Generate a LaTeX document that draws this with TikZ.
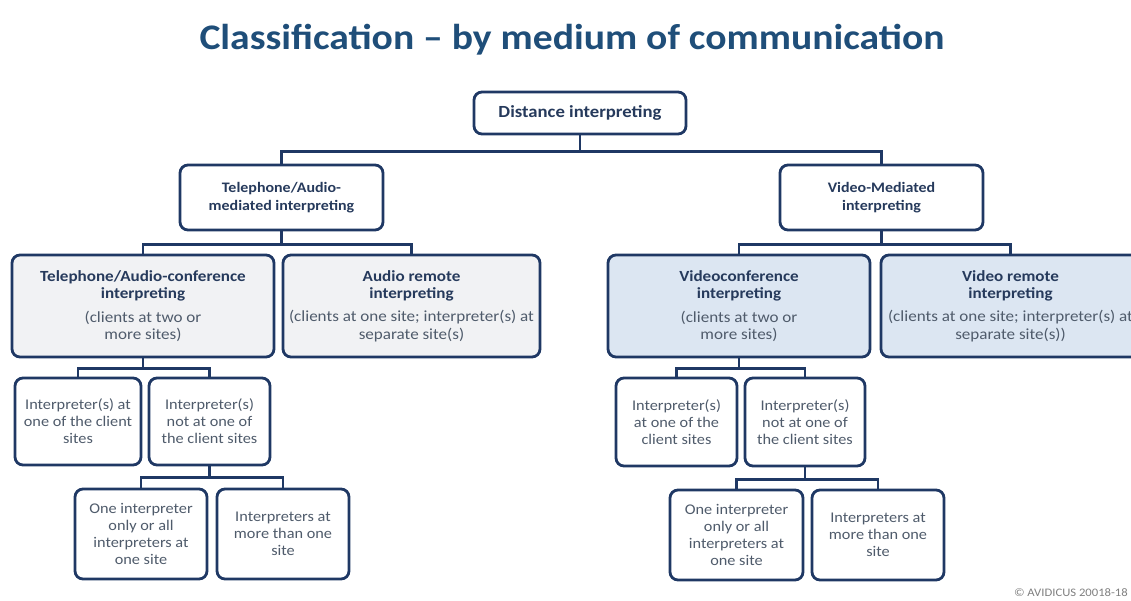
\documentclass[tikz,border=0pt]{standalone}
\usepackage{fontspec}
\setmainfont{Carlito}[FakeStretch=1.1]
\definecolor{navy}{HTML}{1F3864}
\definecolor{titleblue}{HTML}{1F4E79}
\definecolor{boldtxt}{HTML}{263A5C}
\definecolor{regtxt}{HTML}{4F5B6B}
\definecolor{grayfill}{HTML}{F1F2F4}
\definecolor{bluefill}{HTML}{DCE6F2}
\definecolor{copygray}{HTML}{7F7F7F}
\tikzset{
  box/.style={draw=navy, line width=2.8pt, rounded corners=8pt, fill=white,
    inner sep=0pt, align=center, text=regtxt,
    font=\fontsize{14.8}{17}\selectfont},
  bx/.style={box, fill=grayfill, font=\fontsize{15.5}{17.3}\selectfont},
  bb/.style={box, fill=bluefill, font=\fontsize{15.5}{17.3}\selectfont},
  conn/.style={draw=navy, line width=2.8pt},
}
\newcommand{\bt}[1]{{\bfseries\color{boldtxt}#1}}
\begin{document}
\begin{tikzpicture}[x=1pt,y=-1pt]
\useasboundingbox (0,0) rectangle (1131,600);
\clip (0,0) rectangle (1131,600);

\node[font=\fontsize{36}{40}\selectfont\bfseries, text=titleblue] (title) at (572,40) {Classification -- by medium of communication};

% level 0
\node[box, minimum width=212pt, minimum height=42pt, font=\fontsize{17}{18}\selectfont\bfseries, text=boldtxt] (root) at (580,113) {Distance interpreting};

% level 1
\node[box, minimum width=203pt, minimum height=65pt, font=\fontsize{14.5}{18}\selectfont\bfseries, text=boldtxt] (tel) at (281.5,197.5) {Telephone/Audio-\\mediated interpreting};
\node[box, minimum width=203pt, minimum height=65pt, font=\fontsize{14.5}{18}\selectfont\bfseries, text=boldtxt] (vid) at (881.5,197.5) {Video-Mediated\\interpreting};

% level 2
\node[bx, minimum width=262pt, minimum height=102pt] (tac) at (143,306)
  {\bt{Telephone/Audio-conference}\\\bt{interpreting}\\[6pt](clients at two or\\more sites)};
\node[bx, minimum width=257pt, minimum height=102pt] (arm) at (411.5,306)
  {\bt{Audio remote}\\\bt{interpreting}\\[6pt](clients at one site; interpreter(s) at\\separate site(s)};
\node[bb, minimum width=262pt, minimum height=102pt] (vci) at (739,306)
  {\bt{Videoconference}\\\bt{interpreting}\\[6pt](clients at two or\\more sites)};
\node[bb, minimum width=259pt, minimum height=102pt] (vri) at (1010.5,306)
  {\bt{Video remote}\\\bt{interpreting}\\[6pt](clients at one site; interpreter(s) at\\separate site(s))};

% level 3
\node[box, minimum width=126pt, minimum height=87pt] (a1) at (78,421.5) {Interpreter(s) at\\one of the client\\sites};
\node[box, minimum width=121pt, minimum height=87pt] (a2) at (209.5,421.5) {Interpreter(s)\\not at one of\\the client sites};
\node[box, minimum width=121pt, minimum height=88pt] (b1) at (676.5,422) {Interpreter(s)\\at one of the\\client sites};
\node[box, minimum width=120pt, minimum height=88pt] (b2) at (805,422) {Interpreter(s)\\not at one of\\the client sites};

% level 4
\node[box, minimum width=132pt, minimum height=90pt] (a3) at (141,534) {One interpreter\\only or all\\interpreters at\\one site};
\node[box, minimum width=132pt, minimum height=90pt] (a4) at (283,534) {Interpreters at\\more than one\\site};
\node[box, minimum width=133pt, minimum height=90pt] (b3) at (736.5,535) {One interpreter\\only or all\\interpreters at\\one site};
\node[box, minimum width=132pt, minimum height=90pt] (b4) at (878,535) {Interpreters at\\more than one\\site};

% connectors
\draw[conn] (root.south) -- ++(0,16) -| (tel.north);
\draw[conn] (root.south) -- ++(0,16) -| (vid.north);
\draw[conn] (tel.south) -- ++(0,13) -| (tac.north);
\draw[conn] (tel.south) -- ++(0,13) -| (arm.north);
\draw[conn] (vid.south) -- ++(0,13) -| (vci.north);
\draw[conn] (vid.south) -- ++(0,13) -| (vri.north);
\draw[conn] (tac.south) -- ++(0,10) -| (a1.north);
\draw[conn] (tac.south) -- ++(0,10) -| (a2.north);
\draw[conn] (a2.south) -- ++(0,11) -| (a3.north);
\draw[conn] (a2.south) -- ++(0,11) -| (a4.north);
\draw[conn] (vci.south) -- ++(0,10) -| (b1.north);
\draw[conn] (vci.south) -- ++(0,10) -| (b2.north);
\draw[conn] (b2.south) -- ++(0,12) -| (b3.north);
\draw[conn] (b2.south) -- ++(0,12) -| (b4.north);

\node[anchor=south east, inner sep=0pt, font=\fontsize{11.5}{13}\selectfont, text=copygray] (copy) at (1128,597) {\textcopyright{} AVIDICUS 20018-18};
\end{tikzpicture}
\end{document}
